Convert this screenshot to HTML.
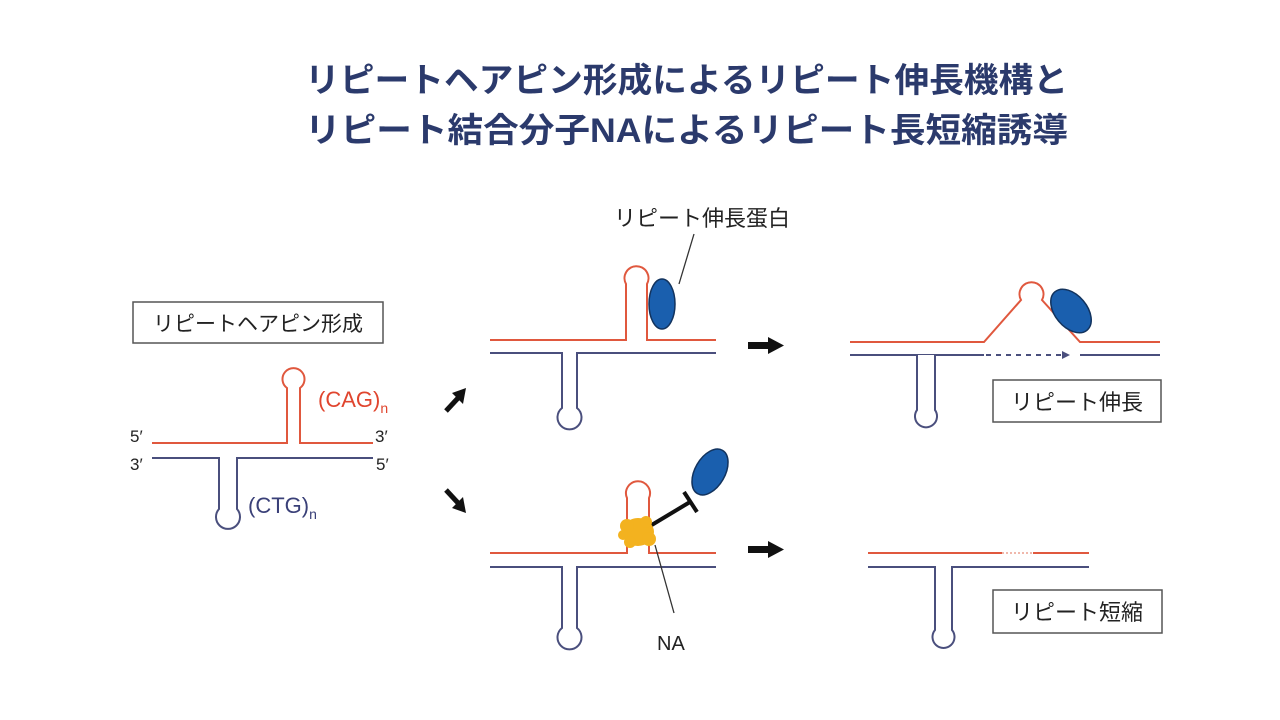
<!DOCTYPE html>
<html><head><meta charset="utf-8"><style>
html,body{margin:0;padding:0;background:#fff;}
svg{display:block;}
text{font-family:"Liberation Sans","Noto Sans CJK JP",sans-serif;}
</style></head><body>
<svg width="1280" height="720" viewBox="0 0 1280 720" xmlns="http://www.w3.org/2000/svg">
<rect width="1280" height="720" fill="#fff"/>
<g fill="#2b3a6c" font-size="34" font-weight="bold">
<text x="305" y="92" textLength="763" lengthAdjust="spacingAndGlyphs">リピートヘアピン形成によるリピート伸長機構と</text>
<text x="305" y="142" textLength="763" lengthAdjust="spacingAndGlyphs">リピート結合分子NAによるリピート長短縮誘導</text>
</g>
<rect x="133" y="302" width="250" height="41" fill="#fff" stroke="#555" stroke-width="1.5"/>
<text x="258" y="331" font-size="21" text-anchor="middle" fill="#222">リピートヘアピン形成</text>
<g fill="none" stroke-width="2">
<path d="M152 443 H287 V388 A11 11 0 1 1 300 388 V443 H373" stroke="#e0583e"/>
<path d="M152 458 H219 V509 A12 12 0 1 0 237 509 V458 H373" stroke="#4a4f7d"/>
<path d="M490 340 H626 V284 A12 12 0 1 1 647 284 V340 H716" stroke="#e0583e"/>
<path d="M490 353 H562 V408 A12 12 0 1 0 577 408 V353 H716" stroke="#4a4f7d"/>
<path d="M850 342 H984 L1021 300 A12 12 0 1 1 1042 300 L1080 342 H1160" stroke="#e0583e"/>
<path d="M850 355 H984" stroke="#4a4f7d"/>
<path d="M986 355 H1062" stroke="#4a4f7d" stroke-dasharray="5 5"/>
<path d="M1080 355 H1160" stroke="#4a4f7d"/>
<path d="M917 355 V410 A11 11 0 1 0 935 410 V355" stroke="#4a4f7d" fill="#fff"/>
<path d="M490 553 H627 V498 A12 12 0 1 1 649 498 V553 H716" stroke="#e0583e"/>
<path d="M490 567 H562 V628 A12 12 0 1 0 577 628 V567 H716" stroke="#4a4f7d"/>
<path d="M868 553 H1002 M1033 553 H1089" stroke="#e0583e"/>
<path d="M1002 553 H1033" stroke="#f0b8ac" stroke-dasharray="2 2"/>
<path d="M868 567 H935 V630 A11 11 0 1 0 952 630 V567 H1089" stroke="#4a4f7d"/>
</g>
<polygon points="1062,351 1070,355 1062,359" fill="#4a4f7d"/>
<g font-size="17" fill="#222">
<text x="130" y="442">5′</text><text x="375" y="442">3′</text>
<text x="130" y="470">3′</text><text x="376" y="470">5′</text>
</g>
<text x="318" y="407" font-size="22" fill="#e0452e">(CAG)<tspan font-size="14" dy="6">n</tspan></text>
<text x="248" y="513" font-size="22" fill="#3a4078">(CTG)<tspan font-size="14" dy="6">n</tspan></text>
<g stroke="#111" stroke-width="5" fill="#111">
<line x1="446" y1="411" x2="459" y2="397"/>
<line x1="446" y1="490" x2="459" y2="504"/>
</g>
<polygon points="466,388 463,404 452,393" fill="#111"/>
<polygon points="466,513 452,508 463,497" fill="#111"/>
<rect x="748" y="342" width="22" height="7" fill="#111"/><polygon points="768,337 784,345.5 768,354" fill="#111"/>
<rect x="748" y="546" width="22" height="7" fill="#111"/><polygon points="768,541 784,549.5 768,558" fill="#111"/>
<text x="614" y="226" font-size="22" fill="#222">リピート伸長蛋白</text>
<line x1="694" y1="234" x2="679" y2="284" stroke="#333" stroke-width="1.3"/>
<ellipse cx="662" cy="304" rx="13" ry="25" fill="#1a5fae" stroke="#12335e" stroke-width="1.5"/>
<ellipse cx="1071" cy="311" rx="16" ry="25" transform="rotate(-40 1071 311)" fill="#1a5fae" stroke="#12335e" stroke-width="1.5"/>
<ellipse cx="710" cy="472" rx="15" ry="25" transform="rotate(30 710 472)" fill="#1a5fae" stroke="#12335e" stroke-width="1.5"/>
<line x1="650" y1="526" x2="690" y2="502" stroke="#111" stroke-width="4"/>
<line x1="684" y1="492" x2="697" y2="512" stroke="#111" stroke-width="4"/>
<g fill="#f3b21f">
<ellipse cx="638" cy="532" rx="16" ry="14"/>
<circle cx="627" cy="526" r="7"/><circle cx="649" cy="539" r="7"/><circle cx="630" cy="542" r="6"/><circle cx="646" cy="522" r="6"/><circle cx="623" cy="535" r="5"/>
</g>
<line x1="655" y1="545" x2="674" y2="613" stroke="#333" stroke-width="1.3"/>
<text x="657" y="650" font-size="20" fill="#222">NA</text>
<rect x="993" y="380" width="168" height="42" fill="#fff" stroke="#555" stroke-width="1.5"/>
<text x="1077" y="410" font-size="22" text-anchor="middle" fill="#222">リピート伸長</text>
<rect x="993" y="590" width="169" height="43" fill="#fff" stroke="#555" stroke-width="1.5"/>
<text x="1077" y="620" font-size="22" text-anchor="middle" fill="#222">リピート短縮</text>
</svg>
</body></html>
